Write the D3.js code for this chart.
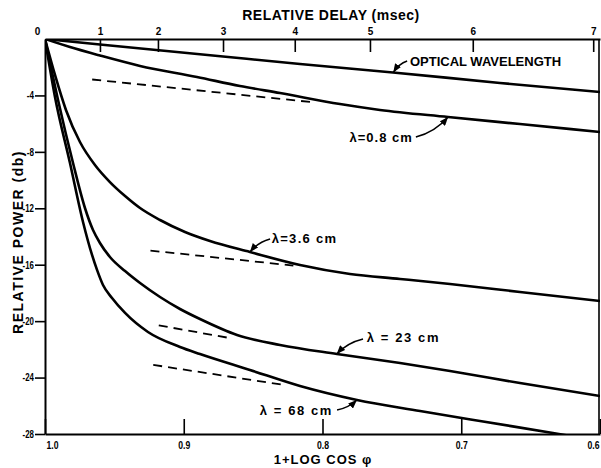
<!DOCTYPE html>
<html>
<head>
<meta charset="utf-8">
<script src="https://cdn.jsdelivr.net/npm/d3@7"></script>
<style>
  html, body { margin: 0; padding: 0; background: #fff; }
  svg { display: block; }
  text { font-family: "Liberation Sans", Arial, sans-serif; font-weight: bold; fill: #000; }
</style>
</head>
<body>
<script>
// ---------- data (x = 1 + log cos phi, y = relative power in db) ----------
const opticalX = [1.0, 0.9604, 0.8717, 0.8162, 0.7492, 0.6721, 0.6];
const opticalY = [0, -0.39, -1.24, -1.77, -2.37, -3.12, -3.76];

const cm08X = [1.0, 0.982, 0.9604, 0.9315, 0.8905, 0.8595, 0.8306, 0.7874, 0.7586, 0.7095, 0.6577, 0.6];
const cm08Y = [0, -0.57, -1.17, -1.91, -2.69, -3.33, -3.83, -4.61, -5.03, -5.53, -6.03, -6.59];

const cm36X = [1.0, 0.9928, 0.9849, 0.9748, 0.964, 0.9532, 0.9423, 0.9315, 0.9171, 0.8991, 0.8811, 0.8523, 0.8162, 0.7802, 0.7441, 0.7081, 0.6577, 0.6];
const cm36Y = [0, -2.55, -5.03, -7.3, -8.93, -10.14, -11.13, -11.98, -12.83, -13.68, -14.32, -15.1, -16.02, -16.66, -17.01, -17.37, -17.93, -18.57];

const cm23X = [1.0, 0.9906, 0.9798, 0.9712, 0.9654, 0.9604, 0.9532, 0.9423, 0.9315, 0.9171, 0.9027, 0.8883, 0.8616, 0.8306, 0.7896, 0.7441, 0.7081, 0.6577, 0.6];
const cm23Y = [0, -4.32, -8.79, -11.98, -13.54, -14.46, -15.45, -16.45, -17.3, -18.29, -19.14, -19.85, -20.98, -21.69, -22.33, -22.97, -23.53, -24.39, -25.31];

const cm68X = [1.0, 0.9928, 0.982, 0.9726, 0.9661, 0.9625, 0.9582, 0.9517, 0.9423, 0.9258, 0.9027, 0.8883, 0.8523, 0.8162, 0.7751, 0.7297, 0.6865, 0.6339, 0.6];
const cm68Y = [0, -4.11, -8.79, -12.97, -15.31, -16.37, -17.44, -18.36, -19.42, -20.77, -21.83, -22.33, -23.46, -24.6, -25.59, -26.37, -27.08, -27.93, -28.5];

// dashed asymptote segments [x0, x1], [y0, y1]
const dash08X = [0.966, 0.809], dash08Y = [-2.87, -4.46];
const dash36X = [0.924, 0.821], dash36Y = [-15.0, -16.06];
const dash23X = [0.918, 0.869], dash23Y = [-20.3, -21.16];
const dash68X = [0.922, 0.826], dash68Y = [-23.1, -24.55];

// axes
const bottomTicks = [1.0, 0.9, 0.8, 0.7, 0.6];
const bottomLabels = ["1.0", "0.9", "0.8", "0.7", "0.6"];
const leftTicks = [0, -4, -8, -12, -16, -20, -24, -28];
const delayLabels = ["0", "1", "2", "3", "4", "5", "6", "7"];
const delayPos = [1.0, 0.9604, 0.9186, 0.8717, 0.8200, 0.7658, 0.6917, 0.6049];

// ---------- layout ----------
const W = 601, H = 468;
const L = 45, R = 600, T = 39, B = 434;

const x = d3.scaleLinear().domain([1.0, 0.6]).range([L, R]);
const y = d3.scaleLinear().domain([0, -28]).range([T, B]);

const svg = d3.select("body").append("svg").attr("width", W).attr("height", H);

const defs = svg.append("defs");
defs.append("clipPath").attr("id", "plot")
  .append("rect").attr("x", L).attr("y", T).attr("width", R - L).attr("height", B - T);
defs.append("marker").attr("id", "arrow")
  .attr("viewBox", "0 0 10 8").attr("refX", 10).attr("refY", 4)
  .attr("markerWidth", 9).attr("markerHeight", 7).attr("markerUnits", "userSpaceOnUse")
  .attr("orient", "auto")
  .append("path").attr("d", "M0,0 L10,4 L0,8 Z").attr("fill", "#000");

// ---------- axes ----------
function styleAxis(g) {
  g.select(".domain").attr("stroke", "#000").attr("stroke-width", 2);
  g.selectAll(".tick line").attr("stroke", "#000").attr("stroke-width", 1.6);
  g.selectAll(".tick text").style("font-size", "10px")
    .style("font-family", "'Liberation Sans', Arial, sans-serif").style("font-weight", "bold");
}

const gBottom = svg.append("g").attr("transform", `translate(0,${B})`)
  .call(d3.axisBottom(x).tickValues(bottomTicks)
    .tickFormat((d, i) => bottomLabels[i])
    .tickSizeInner(-15).tickSizeOuter(0).tickPadding(8));
styleAxis(gBottom);
gBottom.selectAll(".tick text").attr("textLength", 12).attr("lengthAdjust", "spacingAndGlyphs");
gBottom.selectAll(".tick text").filter((d, i) => i === 0).attr("text-anchor", "start").attr("dx", 1);
gBottom.selectAll(".tick text").filter((d, i) => i === bottomTicks.length - 1).attr("text-anchor", "end").attr("dx", -1);

const gLeft = svg.append("g").attr("transform", `translate(${L},0)`)
  .call(d3.axisLeft(y).tickValues(leftTicks)
    .tickFormat(d => d === 0 ? "" : String(d))
    .tickSizeInner(10).tickSizeOuter(0).tickPadding(1));
styleAxis(gLeft);
gLeft.selectAll(".tick text").filter(d => d !== 0)
  .style("font-size", "10.5px")
  .attr("textLength", d => String(Math.abs(d)).length * 4.2 + 3)
  .attr("lengthAdjust", "spacingAndGlyphs");
gLeft.selectAll(".tick").filter(d => d === 0).select("line").remove();

const gTop = svg.append("g").attr("transform", `translate(0,${T})`)
  .call(d3.axisTop(x).tickValues(delayPos)
    .tickFormat((d, i) => delayLabels[i])
    .tickSizeInner(-13).tickSizeOuter(0).tickPadding(4));
styleAxis(gTop);
gTop.selectAll(".tick text").filter((d, i) => i === 0).attr("dx", -8);
gTop.selectAll(".tick").filter((d, i) => i === 0).select("line").remove();

// right border
svg.append("line").attr("x1", R - 1).attr("x2", R - 1).attr("y1", T).attr("y2", B)
  .attr("stroke", "#000").attr("stroke-width", 1.6);

// ---------- titles ----------
svg.append("text").attr("x", 331).attr("y", 20).attr("text-anchor", "middle")
  .style("font-size", "14px").style("letter-spacing", "0.5px").text("RELATIVE  DELAY (msec)");

svg.append("text").attr("x", 323).attr("y", 464).attr("text-anchor", "middle")
  .style("font-size", "13px").style("letter-spacing", "1px").text("1+LOG  COS \u03C6");

svg.append("text").attr("transform", "translate(23,242) rotate(-90)").attr("text-anchor", "middle")
  .style("font-size", "14px").style("letter-spacing", "1.5px").text("RELATIVE  POWER (db)");

// ---------- curves ----------
const zip = (xs, ys) => xs.map((v, i) => [v, ys[i]]);
const series = [
  { key: "optical", pts: zip(opticalX, opticalY) },
  { key: "0.8", pts: zip(cm08X, cm08Y) },
  { key: "3.6", pts: zip(cm36X, cm36Y) },
  { key: "23", pts: zip(cm23X, cm23Y) },
  { key: "68", pts: zip(cm68X, cm68Y) }
];
const line = d3.line().x(d => x(d[0])).y(d => y(d[1])).curve(d3.curveMonotoneX);

const gPlot = svg.append("g").attr("clip-path", "url(#plot)");
gPlot.selectAll("path.curve").data(series).join("path")
  .attr("class", "curve")
  .attr("d", d => line(d.pts))
  .attr("fill", "none").attr("stroke", "#000").attr("stroke-width", 2.6)
  .attr("stroke-linejoin", "round").attr("stroke-linecap", "round");

const dashes = [zip(dash08X, dash08Y), zip(dash36X, dash36Y), zip(dash23X, dash23Y), zip(dash68X, dash68Y)];
gPlot.selectAll("path.dash").data(dashes).join("path")
  .attr("class", "dash")
  .attr("d", d => d3.line().x(p => x(p[0])).y(p => y(p[1]))(d))
  .attr("fill", "none").attr("stroke", "#000").attr("stroke-width", 1.8)
  .attr("stroke-dasharray", "9,6");

// ---------- annotations (positions in data units) ----------
function valueAt(pts, xv) {
  for (let i = 0; i < pts.length - 1; i++) {
    const a = pts[i], b = pts[i + 1];
    if (xv <= a[0] && xv >= b[0]) {
      const t = (a[0] - xv) / (a[0] - b[0]);
      return a[1] + t * (b[1] - a[1]);
    }
  }
  return pts[pts.length - 1][1];
}
const annotations = [
  { text: "OPTICAL  WAVELENGTH", series: 0, tx: 0.737, ty: -1.91, anchor: "start", spacing: 0, sx: 0.739, sy: -1.56, tipX: 0.749 },
  { text: "\u03BB=0.8 cm", series: 1, tx: 0.7349, ty: -7.30, anchor: "end", spacing: 1, sx: 0.7327, sy: -6.95, tipX: 0.7095 },
  { text: "\u03BB=3.6 cm", series: 2, tx: 0.8366, ty: -14.46, anchor: "start", spacing: 1.3, sx: 0.8378, sy: -14.18, tipX: 0.8523 },
  { text: "\u03BB = 23 cm", series: 3, tx: 0.7681, ty: -21.48, anchor: "start", spacing: 1.6, sx: 0.7708, sy: -21.26, tipX: 0.7898 },
  { text: "\u03BB = 68 cm", series: 4, tx: 0.7924, ty: -26.65, anchor: "end", spacing: 1.6, sx: 0.7895, sy: -26.30, tipX: 0.7752 }
];

annotations.forEach(a => {
  svg.append("text").attr("x", x(a.tx)).attr("y", y(a.ty)).attr("text-anchor", a.anchor)
    .style("font-size", "13px").style("letter-spacing", a.spacing + "px").text(a.text);
  const sx = x(a.sx), sy = y(a.sy);
  const ex = x(a.tipX), ey = y(valueAt(series[a.series].pts, a.tipX));
  const cx = sx + (ex - sx) * 0.6, cy = sy + (ey - sy) * 0.25;
  svg.append("path").attr("d", `M${sx},${sy} Q${cx},${cy} ${ex},${ey}`)
    .attr("fill", "none").attr("stroke", "#000").attr("stroke-width", 1.5)
    .attr("marker-end", "url(#arrow)");
});
</script>
</body>
</html>
